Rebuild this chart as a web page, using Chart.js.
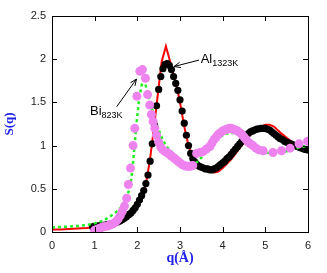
<!DOCTYPE html>
<html lang="en">
<head>
    <meta charset="UTF-8">
    <title>S(q)</title>
    <script src="https://cdn.jsdelivr.net/npm/chart.js"></script>
    <style>
        html, body { margin: 0; padding: 0; background: #fff; }
        #wrap { width: 327px; height: 273px; }
    </style>
</head>
<body>
    <div id="wrap"><canvas id="sqChart"></canvas></div>
    <script>
        // Al 1323K, red line
        const alLineQ = [0, 0.2, 0.4, 0.6, 0.8, 1.0, 1.2, 1.4, 1.6, 1.8, 1.9, 2.0, 2.1, 2.2, 2.3, 2.4, 2.47, 2.57, 2.67, 2.77, 2.87, 2.95, 3.0, 3.1, 3.2, 3.3, 3.4, 3.5, 3.6, 3.7, 3.8, 3.9, 4.0, 4.2, 4.4, 4.6, 4.8, 5.0, 5.1, 5.2, 5.4, 5.6, 5.8, 6.0];
        const alLineS = [0.03, 0.03, 0.035, 0.04, 0.045, 0.055, 0.065, 0.085, 0.12, 0.19, 0.24, 0.31, 0.4, 0.55, 0.85, 1.25, 1.55, 1.97, 2.15, 1.97, 1.78, 1.62, 1.5, 1.22, 1.0, 0.86, 0.78, 0.73, 0.71, 0.70, 0.69, 0.70, 0.74, 0.84, 0.97, 1.10, 1.20, 1.24, 1.24, 1.22, 1.13, 1.05, 0.98, 0.93];

        // Al 1323K, black dots
        const alDotQ = [0.95, 1.00, 1.05, 1.10, 1.15, 1.20, 1.25, 1.30, 1.35, 1.40, 1.45, 1.50, 1.55, 1.60, 1.65, 1.70, 1.75, 1.80, 1.85, 1.90, 1.95, 2.00, 2.05, 2.10, 2.15, 2.20, 2.25, 2.30, 2.35, 2.40, 2.45, 2.50, 2.55, 2.60, 2.65, 2.70, 2.75, 2.80, 2.85, 2.90, 2.95, 3.00, 3.05, 3.10, 3.15, 3.20, 3.25, 3.30, 3.35, 3.40, 3.45, 3.50, 3.55, 3.60, 3.65, 3.70, 3.75, 3.80, 3.85, 3.90, 3.95, 4.00, 4.05, 4.10, 4.15, 4.20, 4.25, 4.30, 4.35, 4.40, 4.45, 4.50, 4.55, 4.60, 4.65, 4.70, 4.75, 4.80, 4.85, 4.90, 4.95, 5.00, 5.05, 5.10, 5.15, 5.20, 5.25, 5.30, 5.35, 5.40, 5.45, 5.50, 5.55, 5.60, 5.65, 5.70, 5.75, 5.80, 5.85, 5.90, 5.95, 6.00];
        const alDotS = [0.06, 0.065, 0.068, 0.07, 0.073, 0.077, 0.08, 0.085, 0.09, 0.095, 0.10, 0.11, 0.12, 0.13, 0.145, 0.16, 0.18, 0.20, 0.22, 0.25, 0.28, 0.32, 0.37, 0.42, 0.48, 0.56, 0.66, 0.82, 1.02, 1.24, 1.46, 1.65, 1.80, 1.89, 1.94, 1.95, 1.93, 1.88, 1.80, 1.72, 1.64, 1.53, 1.40, 1.26, 1.12, 1.00, 0.91, 0.85, 0.81, 0.78, 0.76, 0.75, 0.74, 0.73, 0.73, 0.72, 0.72, 0.73, 0.74, 0.76, 0.78, 0.80, 0.82, 0.85, 0.87, 0.90, 0.93, 0.96, 0.99, 1.02, 1.05, 1.08, 1.11, 1.14, 1.16, 1.17, 1.18, 1.19, 1.195, 1.20, 1.20, 1.20, 1.19, 1.18, 1.16, 1.14, 1.12, 1.10, 1.08, 1.07, 1.05, 1.04, 1.03, 1.02, 1.01, 1.00, 0.99, 0.98, 0.97, 0.96, 0.955, 0.95];

        // Bi 823K, green dotted line
        const biLineQ = [0, 0.3, 0.6, 0.8, 1.0, 1.2, 1.36, 1.5, 1.67, 1.75, 1.83, 1.88, 1.92, 1.98, 2.04, 2.10, 2.16, 2.22, 2.3, 2.4, 2.5, 2.6, 2.7, 2.8, 2.9, 3.0, 3.1, 3.2, 3.3, 3.4, 3.5, 3.6, 3.7, 3.8, 3.9, 4.0, 4.1, 4.2, 4.3, 4.4, 4.5, 4.6, 4.7, 4.8, 4.9, 5.0, 5.2, 5.4, 5.6, 5.8, 6.0];
        const biLineS = [0.055, 0.06, 0.07, 0.08, 0.10, 0.13, 0.18, 0.23, 0.31, 0.40, 0.52, 0.70, 0.91, 1.26, 1.53, 1.70, 1.76, 1.65, 1.50, 1.33, 1.18, 1.06, 0.98, 0.93, 0.88, 0.84, 0.80, 0.78, 0.78, 0.81, 0.86, 0.92, 0.98, 1.03, 1.08, 1.12, 1.14, 1.15, 1.14, 1.11, 1.07, 1.02, 0.98, 0.95, 0.93, 0.92, 0.91, 0.92, 0.95, 0.98, 1.00];

        // Bi 823K, violet dots
        const biDotQ = [1.00, 1.05, 1.10, 1.15, 1.20, 1.25, 1.30, 1.35, 1.40, 1.45, 1.50, 1.55, 1.60, 1.65, 1.70, 1.75, 1.79, 1.84, 1.90, 1.94, 1.99, 2.06, 2.12, 2.19, 2.24, 2.29, 2.33, 2.37, 2.41, 2.45, 2.50, 2.55, 2.60, 2.65, 2.70, 2.75, 2.80, 2.85, 2.90, 2.95, 3.00, 3.05, 3.10, 3.15, 3.20, 3.25, 3.30, 3.39, 3.47, 3.54, 3.62, 3.70, 3.75, 3.80, 3.85, 3.90, 3.95, 4.00, 4.05, 4.10, 4.15, 4.20, 4.25, 4.30, 4.35, 4.40, 4.45, 4.50, 4.55, 4.60, 4.65, 4.71, 4.78, 4.85, 4.95, 5.18, 5.38, 5.58, 5.79, 5.99];
        const biDotS = [0.02, 0.03, 0.04, 0.05, 0.06, 0.065, 0.07, 0.08, 0.09, 0.10, 0.12, 0.15, 0.19, 0.24, 0.30, 0.39, 0.55, 0.74, 1.00, 1.20, 1.57, 1.86, 1.88, 1.78, 1.59, 1.47, 1.36, 1.28, 1.20, 1.12, 1.04, 0.98, 0.95, 0.93, 0.92, 0.90, 0.88, 0.86, 0.84, 0.82, 0.80, 0.78, 0.77, 0.76, 0.76, 0.76, 0.77, 0.91, 0.92, 0.93, 0.96, 0.99, 1.03, 1.07, 1.10, 1.13, 1.15, 1.17, 1.18, 1.19, 1.20, 1.20, 1.19, 1.18, 1.17, 1.15, 1.13, 1.10, 1.07, 1.04, 1.02, 1.00, 0.97, 0.95, 0.94, 0.92, 0.94, 0.97, 1.02, 1.05];

        const xTicks = [0, 1, 2, 3, 4, 5, 6];
        const yTicks = [0, 0.5, 1, 1.5, 2, 2.5];

        function pts(qs, ss) {
            return qs.map((q, i) => ({ x: q, y: ss[i] }));
        }

        // box around the plot with inward ticks on all four sides
        const frame = {
            id: 'frame',
            afterDraw(chart) {
                const { ctx, chartArea: a } = chart;
                const xs = chart.scales.x, ys = chart.scales.y;
                const len = 5;
                ctx.save();
                ctx.strokeStyle = '#000';
                ctx.lineWidth = 1;
                ctx.strokeRect(Math.round(a.left) + 0.5, Math.round(a.top) + 0.5,
                    Math.round(a.right - a.left), Math.round(a.bottom - a.top));
                ctx.beginPath();
                xTicks.forEach(v => {
                    const px = Math.round(xs.getPixelForValue(v)) + 0.5;
                    ctx.moveTo(px, a.bottom); ctx.lineTo(px, a.bottom - len);
                    ctx.moveTo(px, a.top); ctx.lineTo(px, a.top + len);
                });
                yTicks.forEach(v => {
                    const py = Math.round(ys.getPixelForValue(v)) + 0.5;
                    ctx.moveTo(a.left, py); ctx.lineTo(a.left + len, py);
                    ctx.moveTo(a.right, py); ctx.lineTo(a.right - len, py);
                });
                ctx.stroke();
                ctx.restore();
            }
        };

        // labels with subscripts and arrows, placed in data coordinates
        const notes = [
            { name: 'Bi', sub: '823K', tq: 0.89, ts: 1.354, fromQ: 1.516, fromS: 1.45, toQ: 1.98, toS: 1.77 },
            { name: 'Al', sub: '1323K', tq: 3.485, ts: 1.96, fromQ: 3.445, fromS: 1.99, toQ: 2.86, toS: 1.915 }
        ];
        const labels = {
            id: 'labels',
            afterDraw(chart) {
                const { ctx } = chart;
                const xs = chart.scales.x, ys = chart.scales.y;
                ctx.save();
                notes.forEach(n => {
                    const tx = xs.getPixelForValue(n.tq), ty = ys.getPixelForValue(n.ts);
                    ctx.fillStyle = '#000';
                    ctx.textBaseline = 'alphabetic';
                    ctx.font = '13px "Liberation Sans", Arial, sans-serif';
                    ctx.fillText(n.name, tx, ty);
                    const w = ctx.measureText(n.name).width;
                    ctx.font = '9px "Liberation Sans", Arial, sans-serif';
                    ctx.fillText(n.sub, tx + w, ty + 3);

                    const x1 = xs.getPixelForValue(n.fromQ), y1 = ys.getPixelForValue(n.fromS);
                    const x2 = xs.getPixelForValue(n.toQ), y2 = ys.getPixelForValue(n.toS);
                    const ang = Math.atan2(y2 - y1, x2 - x1);
                    const h = 7, sp = 0.4;
                    ctx.strokeStyle = '#000';
                    ctx.lineWidth = 1;
                    ctx.beginPath();
                    ctx.moveTo(x1, y1); ctx.lineTo(x2, y2);
                    ctx.moveTo(x2 - h * Math.cos(ang - sp), y2 - h * Math.sin(ang - sp));
                    ctx.lineTo(x2, y2);
                    ctx.lineTo(x2 - h * Math.cos(ang + sp), y2 - h * Math.sin(ang + sp));
                    ctx.stroke();
                });
                ctx.restore();
            }
        };

        const tickFont = { family: '"Liberation Sans", Arial, sans-serif', size: 11 };
        const titleFont = { family: '"Liberation Serif", "Times New Roman", serif', weight: 'bold' };

        const ctx = document.getElementById('sqChart').getContext('2d');
        const chart = new Chart(ctx, {
            type: 'scatter',
            data: {
                datasets: [
                    {
                        label: 'Bi 823K dots',
                        data: pts(biDotQ, biDotS),
                        backgroundColor: '#ee82ee',
                        borderColor: '#ee82ee',
                        pointRadius: 4.5,
                        borderWidth: 0,
                        order: 1
                    },
                    {
                        label: 'Bi 823K line',
                        data: pts(biLineQ, biLineS),
                        showLine: true,
                        borderColor: '#22ee22',
                        borderWidth: 2.5,
                        borderDash: [3, 3],
                        pointRadius: 0,
                        order: 2
                    },
                    {
                        label: 'Al 1323K dots',
                        data: pts(alDotQ, alDotS),
                        backgroundColor: '#000',
                        borderColor: '#000',
                        pointRadius: 3.6,
                        borderWidth: 0,
                        order: 3
                    },
                    {
                        label: 'Al 1323K line',
                        data: pts(alLineQ, alLineS),
                        showLine: true,
                        borderColor: '#ff0000',
                        borderWidth: 2,
                        pointRadius: 0,
                        order: 4
                    }
                ]
            },
            options: {
                responsive: true,
                maintainAspectRatio: false,
                animation: false,
                events: [],
                layout: { padding: { top: 16, right: 19, left: 0, bottom: 0 } },
                plugins: { legend: { display: false }, tooltip: { enabled: false } },
                scales: {
                    x: {
                        type: 'linear',
                        min: 0, max: 6,
                        afterBuildTicks: s => { s.ticks = xTicks.map(v => ({ value: v })); },
                        afterFit: s => { s.height = 41; },
                        grid: { display: false, drawTicks: false },
                        border: { display: false },
                        ticks: { font: tickFont, color: '#222', padding: 7, maxRotation: 0, callback: v => String(v) },
                        title: {
                            display: true, text: 'q(Å)', color: '#2222ee',
                            font: Object.assign({ size: 14 }, titleFont),
                            padding: { top: 0, bottom: 6 }
                        }
                    },
                    y: {
                        type: 'linear',
                        min: 0, max: 2.5,
                        afterBuildTicks: s => { s.ticks = yTicks.map(v => ({ value: v })); },
                        afterFit: s => { s.width = 52; },
                        grid: { display: false, drawTicks: false },
                        border: { display: false },
                        ticks: { font: tickFont, color: '#222', padding: 6, callback: v => String(v) },
                        title: {
                            display: true, text: 'S(q)', color: '#2222ee',
                            font: Object.assign({ size: 13 }, titleFont),
                            padding: { top: 2, bottom: 0 }
                        }
                    }
                }
            },
            plugins: [frame, labels]
        });
    </script>
</body>
</html>
